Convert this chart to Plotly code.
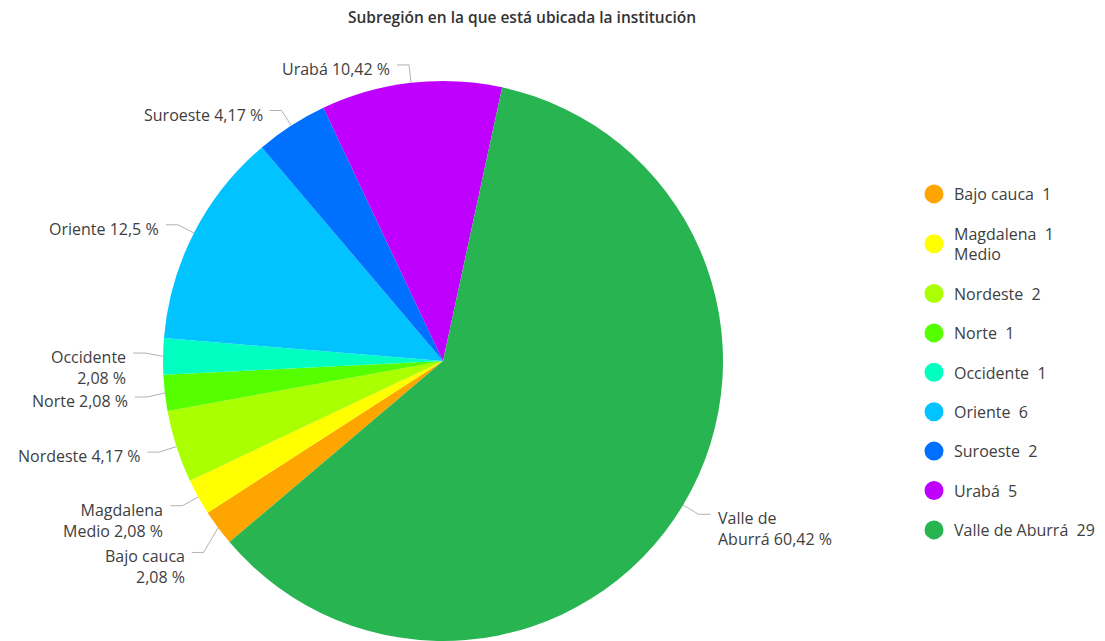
import math
import plotly.graph_objects as go

# Subregion counts
regions = ["Bajo cauca", "Magdalena Medio", "Nordeste", "Norte", "Occidente",
           "Oriente", "Suroeste", "Urabá", "Valle de Aburrá"]
counts = [1, 1, 2, 1, 1, 6, 2, 5, 29]
colors = ["#FFA500", "#FFFF00", "#AAFF00", "#55FF00", "#00FFC0",
          "#00C3FF", "#0070FF", "#C000FF", "#28B450"]
# Line-broken names used in slice labels and legend entries
slice_names = ["Bajo cauca<br>", "Magdalena<br>Medio ", "Nordeste ", "Norte ", "Occidente<br>",
               "Oriente ", "Suroeste ", "Urabá ", "Valle de<br>Aburrá "]
legend_names = ["Bajo cauca  1", "Magdalena  1<br>Medio", "Nordeste  2", "Norte  1",
                "Occidente  1", "Oriente  6", "Suroeste  2", "Urabá  5",
                "Valle de Aburrá  29"]

W, H = 1105, 641
CX, CY, R = 443, 361, 280          # pie centre and radius in pixels
ROTATION = 229.7                   # first slice start, degrees clockwise from 12 o'clock
FONT = "Open Sans"


def px(x):
    return x / W


def py(y):
    return 1 - y / H


def fmt_pct(v):
    s = f"{v:.2f}".rstrip("0").rstrip(".")
    return s.replace(".", ",") + " %"


total = sum(counts)
pcts = [c / total * 100 for c in counts]

fig = go.Figure()
fig.add_trace(go.Pie(
    labels=regions, values=counts, sort=False, direction="clockwise",
    rotation=ROTATION, marker=dict(colors=colors, line=dict(width=0)),
    textinfo="none", showlegend=False,
    domain=dict(x=[px(CX - R), px(CX + R)], y=[0, py(CY - R)]),
))

# Legend entries with round markers
for name, col in zip(legend_names, colors):
    fig.add_trace(go.Scatter(
        x=[None], y=[None], mode="markers", name=name, legendgroup=name,
        marker=dict(symbol="circle", size=16, color=col, line=dict(color=col, width=3)),
    ))

# Leader lines and outside labels
label_nudge = {"Bajo cauca": 14, "Occidente": -3, "Norte": 2}   # vertical push (px) to keep labels apart
shapes, annotations = [], []
cum = 0.0
for reg, name, pct, cnt in zip(regions, slice_names, pcts, counts):
    mid = math.radians(ROTATION + (cum + cnt / 2) / total * 360)
    cum += cnt
    ex, ey = CX + R * math.sin(mid), CY - R * math.cos(mid)
    bx, by = CX + (R + 18) * math.sin(mid), CY - (R + 18) * math.cos(mid)
    by += label_nudge.get(reg, 0)
    right = math.sin(mid) > 0
    hx = bx + 12 if right else bx - 12
    line = dict(type="line", xref="paper", yref="paper", line=dict(color="#b3b3b3", width=1))
    shapes.append({**line, "x0": px(ex), "y0": py(ey), "x1": px(bx), "y1": py(by)})
    shapes.append({**line, "x0": px(bx), "y0": py(by), "x1": px(hx), "y1": py(by)})
    annotations.append(dict(
        text=f"{name}{fmt_pct(pct)}", xref="paper", yref="paper",
        x=px(hx + 5 if right else hx - 5), y=py(by - 9),
        xanchor="left" if right else "right", yanchor="top",
        align="left" if right else "right", showarrow=False,
        font=dict(family=FONT, size=16, color="#404040"),
    ))

fig.update_layout(
    width=W, height=H,
    margin=dict(l=0, r=0, t=0, b=0),
    paper_bgcolor="white", plot_bgcolor="white",
    title=dict(text="Subregión en la que está ubicada la institución",
               x=px(522), xanchor="center", y=py(18), yanchor="middle",
               yref="container",
               font=dict(family=FONT, size=15.5, color="#333333", weight=600)),
    xaxis=dict(visible=False), yaxis=dict(visible=False),
    legend=dict(x=px(914), xanchor="left", y=py(177), yanchor="top",
                font=dict(family=FONT, size=16, color="#404040"),
                tracegroupgap=15.6, traceorder="grouped", itemclick=False),
    shapes=shapes, annotations=annotations,
)

fig.write_html("out.html")
